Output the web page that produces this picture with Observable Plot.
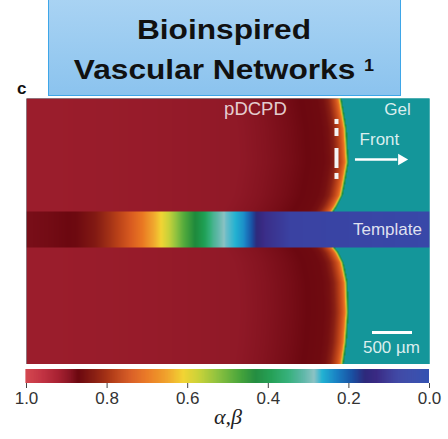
<!DOCTYPE html>
<html>
<head>
<meta charset="utf-8">
<script src="https://cdn.jsdelivr.net/npm/d3@7"></script>
<script src="https://cdn.jsdelivr.net/npm/@observablehq/plot@0.6"></script>
<style>
  html, body { margin: 0; padding: 0; background: #fff; }
  #wrap { position: relative; width: 448px; height: 439px; overflow: hidden;
          font-family: "Liberation Sans", Arial, sans-serif; }
  #titlebox { position: absolute; left: 48px; top: -2px; width: 351px; height: 96px;
              border: 1.5px solid #3ea6e8; background: linear-gradient(#a9d3f3, #8bc3ee); }
  .tl { position: absolute; left: 0; width: 448px; text-align: center; font-weight: bold;
        font-size: 28px; line-height: 28px; color: #111; transform: scaleX(1.13);
        transform-origin: 224px 50%; white-space: nowrap; }
  .sup { font-size: 16px; vertical-align: 8px; }
  #panel { position: absolute; left: 17px; top: 80px; font-weight: bold; font-size: 17px;
           line-height: 17px; color: #111; }
  #field { position: absolute; left: 0; top: 98px; }
  #bar { position: absolute; left: 0; top: 369px; }
</style>
</head>
<body>
<div id="wrap">
  <div id="titlebox"></div>
  <div class="tl" style="top:16px">Bioinspired</div>
  <div class="tl" style="top:52px">Vascular Networks <span class="sup">1</span></div>
  <div id="panel">c</div>
  <div id="field"></div>
  <div id="bar"></div>
</div>
<script>
// ---- colour map for the degree of cure α,β ----
const cmapValues = [0, 0.08, 0.13, 0.16, 0.19, 0.23, 0.265, 0.285, 0.31, 0.35, 0.39, 0.43,
                    0.47, 0.52, 0.57, 0.61, 0.65, 0.70, 0.74, 0.78, 0.83, 0.87, 0.895, 0.92, 0.96, 1.0];
const cmapColors = ["#3452b2", "#3a42a2", "#3a2a84", "#2e2a7c", "#1a50a2", "#1a82c4", "#22b2d2",
                    "#8cc2c4", "#62b8aa", "#34b07a", "#1e9e52", "#1e8a3c", "#4aa63c", "#88c040",
                    "#c8d23a", "#f2d434", "#f0a52e", "#ea7822", "#d85a20", "#b84018", "#8a2014",
                    "#6c0810", "#8e1826", "#a82232", "#c23444", "#d44850"];
const gelColor = "#14969a";

// ---- simulation domain (µm) ----
const domainWidth = 5037.5;
const domainHeight = 3325;
const templateBand = [1462, 1912];          // channel occupied by the sacrificial template

// front position along the sample height
const frontHeight = [0, 275, 650, 1025, 1275, 1400, 1462, 1912, 1988, 2112, 2237, 2525, 2950, 3325];
const frontPos    = [3950, 3988, 4013, 4000, 3950, 3888, 3838, 3825, 3875, 3938, 3963, 4013, 3988, 3925];

// cure profile behind the front (distance behind front → α)
const behindDist  = [0, 8, 18, 30, 55, 85, 120, 160, 220, 300, 500, 700, 1000, 1400, 2000];
const behindAlpha = [0.44, 0.55, 0.64, 0.70, 0.74, 0.77, 0.80, 0.83, 0.855, 0.866, 0.87, 0.878, 0.888, 0.898, 1.0];

// fully cured bulk far behind the front
const bulkPos   = [0, 1500, 3000, 5037.5];
const bulkAlpha = [0.908, 0.903, 0.895, 0.895];

// cure level along the template channel
const templatePos   = [0, 300, 612, 862, 1050, 1262, 1450, 1637, 1800, 1962, 2137, 2237, 2337,
                       2487, 2612, 2712, 2800, 2875, 2987, 3300, 5037.5];
const templateAlpha = [0.88, 0.875, 0.868, 0.84, 0.80, 0.75, 0.70, 0.63, 0.56, 0.48, 0.42, 0.38,
                       0.33, 0.28, 0.265, 0.24, 0.20, 0.16, 0.12, 0.08, 0.05];

// colour-bar ticks
const barTicks = [1.0, 0.8, 0.6, 0.4, 0.2, 0.0];

// lookups over the sampled profiles
const frontAt    = d3.scaleLinear(frontHeight, frontPos).clamp(true);
const behindAt   = d3.scaleLinear(behindDist, behindAlpha).clamp(true);
const bulkAt     = d3.scaleLinear(bulkPos, bulkAlpha).clamp(true);
const templateAt = d3.scaleLinear(templatePos, templateAlpha).clamp(true);

function alphaField(x, y) {
  if (y >= templateBand[0] && y <= templateBand[1]) return templateAt(x);
  const d = frontAt(y) - x;
  if (d < -15) return NaN;     // uncured gel ahead of the front
  if (d < 0) return 0.42;
  return Math.min(bulkAt(x), behindAt(d));
}

const color = {type: "linear", domain: cmapValues, range: cmapColors, interpolate: "rgb", unknown: gelColor};

// annotations inside the field
const labels = [
  {text: "Gel",      x: 4637, y: 3188},
  {text: "Front",    x: 4412, y: 2813},
  {text: "Template", x: 4512, y: 1687},
  {text: "500 µm",   x: 4562, y: 212}
];
const materialLabel = [{text: "pDCPD", x: 2862, y: 3188}];
const frontMarks = [{y1: 3000, y2: 3063}, {y1: 2850, y2: 2950}, {y1: 2450, y2: 2700}, {y1: 2313, y2: 2388}];
const frontMarkX = 3875;
const arrow = {x1: 4112, x2: 4640, y: 2562, tip: 4687};
const scaleBar = {x1: 4325, x2: 4825, y: 400};

const field = Plot.plot({
  width: 448, height: 266,
  marginLeft: 26, marginRight: 19, marginTop: 0, marginBottom: 0,
  style: {background: "transparent", fontFamily: "Liberation Sans, Arial, sans-serif"},
  x: {domain: [0, domainWidth], axis: null},
  y: {domain: [0, domainHeight], axis: null},
  color,
  marks: [
    Plot.frame({fill: gelColor, stroke: "none"}),
    Plot.raster({x1: 0, x2: domainWidth, y1: 0, y2: domainHeight, width: 403, height: 266, fill: alphaField}),
    Plot.ruleX(frontMarks, {x: () => frontMarkX, y1: "y1", y2: "y2", stroke: "#f4f4f4", strokeWidth: 4}),
    Plot.ruleY([arrow], {x1: "x1", x2: "x2", y: "y", stroke: "white", strokeWidth: 2.5}),
    Plot.dot([arrow], {x: "tip", y: "y", symbol: "triangle2", rotate: 90, r: 5.5, fill: "white", stroke: "none"}),
    Plot.ruleY([scaleBar], {x1: "x1", x2: "x2", y: "y", stroke: "white", strokeWidth: 3}),
    Plot.text(labels, {x: "x", y: "y", text: "text", fill: "white", fillOpacity: 0.85, fontSize: 17}),
    Plot.text(materialLabel, {x: "x", y: "y", text: "text", fill: "white", fillOpacity: 0.8, fontSize: 18.5})
  ]
});
document.getElementById("field").appendChild(field);

// colour bar
const barStep = 0.0025;
const barSteps = d3.range(0, 1, barStep);
const bar = Plot.plot({
  width: 448, height: 70,
  marginLeft: 26, marginRight: 19, marginTop: 0, marginBottom: 56,
  style: {background: "transparent", color: "#333", fontFamily: "Liberation Sans, Arial, sans-serif"},
  x: {domain: [1, 0], axis: null},
  y: {domain: [0, 1], axis: null},
  color,
  marks: [
    Plot.rect(barSteps, {x1: (d) => d, x2: (d) => d + barStep * 1.6, y1: () => 0, y2: () => 1, fill: (d) => d + barStep / 2}),
    Plot.axisX(barTicks, {tickFormat: d3.format(".1f"), tickSize: 5, tickPadding: 3, fontSize: 17, label: null, stroke: "#444"}),
    Plot.text(["α,β"], {x: () => 0.5, frameAnchor: "bottom", dy: 40, text: (d) => d, fontSize: 22,
                        fontStyle: "italic", fontFamily: "Liberation Serif, serif", fill: "#222"})
  ]
});
document.getElementById("bar").appendChild(bar);
</script>
</body>
</html>
